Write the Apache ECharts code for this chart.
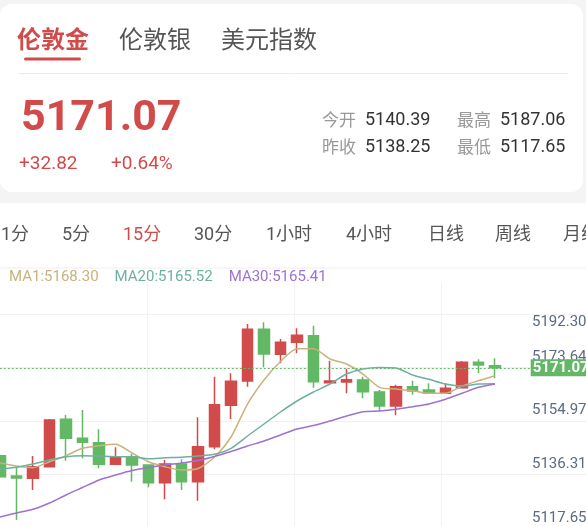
<!DOCTYPE html>
<html><head><meta charset="utf-8">
<script src="https://cdn.jsdelivr.net/npm/echarts@6/dist/echarts.min.js"></script>
<style>html,body{margin:0;padding:0;background:#fff}#c{width:586px;height:526px}</style>
</head><body><div id="c"></div>
<script>
// ---- data ----
const symbols = ['伦敦金', '伦敦银', '美元指数'];
const lastPrice = 5171.07;
const changeTexts = ['+32.82', '+0.64%'];
const statLabels = ['今开', '最高', '昨收', '最低'];
const statValues = ['5140.39', '5187.06', '5138.25', '5117.65'];
const periods = ['1分', '5分', '15分', '30分', '1小时', '4小时', '日线', '周线', '月线'];
const activePeriod = '15分';

const categories = ['1','2','3','4','5','6','7','8','9','10','11','12','13','14','15','16','17','18','19','20','21','22','23','24','25','26','27','28','29','30','31','32','33'];
const opens  = [5140.23,5133.10,5132.29,5136.36,5153.01,5146.34,5144.79,5137.21,5139.88,5136.96,5130.75,5137.31,5131.10,5143.39,5157.92,5166.46,5184.61,5175.83,5180.04,5182.36,5165.86,5166.10,5166.81,5162.59,5157.68,5164.45,5163.30,5162.14,5164.10,5173.02,5171.83];
const closes = [5132.85,5132.40,5136.36,5152.76,5146.34,5144.93,5137.21,5139.52,5136.96,5130.75,5137.31,5131.10,5143.39,5158.13,5166.35,5184.61,5175.94,5180.04,5182.50,5166.21,5166.46,5166.91,5162.70,5157.68,5164.45,5162.94,5162.14,5163.89,5173.02,5172.07,5171.07];
const lows   = [5132.40,5117.65,5128.18,5136.10,5138.47,5139.31,5135.80,5137.00,5131.10,5129.13,5124.92,5128.18,5124.43,5142.47,5153.11,5164.45,5171.27,5172.67,5176.18,5164.10,5165.60,5162.14,5160.38,5155.92,5154.41,5161.65,5161.89,5161.90,5163.90,5169.16,5167.40];
const highs  = [5140.60,5136.36,5140.12,5153.11,5154.52,5156.27,5149.50,5143.18,5140.82,5137.10,5138.70,5138.96,5153.71,5167.97,5169.16,5186.47,5187.06,5181.20,5184.96,5185.87,5173.58,5170.77,5167.97,5163.30,5165.16,5166.56,5165.65,5165.65,5173.48,5174.07,5174.43];

const ma1  = [5137.77,5136.61,5136.01,5138.12,5140.23,5142.83,5143.74,5144.23,5141.18,5138.12,5136.36,5135.21,5135.73,5139.77,5146.79,5158.38,5166.81,5173.30,5177.80,5177.80,5174.18,5172.42,5168.91,5164.24,5163.65,5163.05,5162.14,5162.14,5164.70,5166.56,5168.30];
const ma20 = [5135.45,5136.15,5137.31,5138.72,5139.88,5140.23,5140.12,5139.88,5139.88,5139.17,5139.52,5139.67,5140.12,5140.72,5142.83,5147.14,5151.36,5155.57,5159.43,5162.59,5165.40,5168.91,5170.67,5171.20,5171.02,5168.56,5167.05,5165.40,5164.70,5165.40,5165.52];
const ma30 = [5118.70,5120.11,5121.41,5123.62,5126.43,5129.06,5131.69,5133.45,5135.03,5136.08,5136.96,5137.66,5138.54,5139.95,5141.70,5143.63,5145.39,5147.50,5149.60,5150.83,5152.41,5154.17,5155.68,5155.92,5156.52,5157.43,5158.38,5160.03,5162.14,5164.24,5165.41];
const maNames = ['MA1', 'MA20', 'MA30'];
const maLatest = ['5168.30', '5165.52', '5165.41'];
const priceTicks = [5117.65, 5136.31, 5154.97, 5173.64, 5192.30];

// ---- styles ----
const RED = '#d14b4b', GREEN = '#62b865';
const maColors = ['#c9b27c', '#6db0a2', '#9d72d0'];
const NUM = 'Roboto, "Noto Sans CJK SC", sans-serif';
const CJK = '"Noto Sans CJK SC", Roboto, sans-serif';
const yMin = priceTicks[0], yMax = priceTicks[priceTicks.length - 1];

const candleData = opens.map((o, i) => [o, closes[i], lows[i], highs[i]]);

const g = [];
g.push({type:'rect', shape:{x:0,y:0,width:586,height:203}, style:{fill:'#f4f4f4'}, silent:true});
g.push({type:'rect', shape:{x:0,y:4,width:583,height:188,r:12}, style:{fill:'#fff'}, silent:true});
const symX = [17, 119, 221];
symbols.forEach((s, i) => g.push({type:'text', x:symX[i], y:39, style:{text:s, fill: i===0?RED:'#555', fontSize:24, fontWeight: i===0?'bold':'normal', fontFamily:CJK, verticalAlign:'middle'}}));
g.push({type:'rect', shape:{x:24,y:57.5,width:57,height:3,r:1.5}, style:{fill:RED}});
g.push({type:'line', shape:{x1:19,y1:73.5,x2:568,y2:73.5}, style:{stroke:'#ececec', lineWidth:1}});
g.push({type:'text', x:21, y:119, style:{text:lastPrice.toFixed(2), fill:RED, fontSize:43, fontWeight:'bold', fontFamily:NUM, verticalAlign:'middle'}});
g.push({type:'text', x:19, y:164, style:{text:changeTexts[0], fill:RED, fontSize:19, fontFamily:NUM, verticalAlign:'middle'}});
g.push({type:'text', x:111, y:164, style:{text:changeTexts[1], fill:RED, fontSize:19, fontFamily:NUM, verticalAlign:'middle'}});
const statPos = [[322,120],[457,120],[322,147],[457,147]];
statLabels.forEach((l, i) => {
  g.push({type:'text', x:statPos[i][0], y:statPos[i][1], style:{text:l, fill:'#999', fontSize:17, fontFamily:CJK, verticalAlign:'middle'}});
  g.push({type:'text', x:statPos[i][0]+43, y:statPos[i][1], style:{text:statValues[i], fill:'#333', fontSize:18, fontFamily:NUM, verticalAlign:'middle'}});
});
const perX = [1, 62, 123, 194, 266, 346, 428, 495, 563];
periods.forEach((p, i) => g.push({type:'text', x:perX[i], y:235, style:{text:p, fill: p===activePeriod?RED:'#555', fontSize:18, fontFamily:NUM, verticalAlign:'middle'}}));
g.push({type:'line', shape:{x1:0,y1:268,x2:586,y2:268}, style:{stroke:'#eeeeee', lineWidth:1}});

const chart = echarts.init(document.getElementById('c'), null, {renderer:'canvas'});
chart.setOption({
  backgroundColor: '#fff',
  animation: false,
  graphic: {elements: g},
  legend: {
    left: 4, top: 270, padding: 0, itemWidth: 0, itemHeight: 14, itemGap: 11, icon: 'none',
    selectedMode: false,
    data: maNames.map((n, i) => ({name: n, icon: 'none', textStyle: {color: maColors[i]}})),
    formatter: n => n + ':' + maLatest[maNames.indexOf(n)],
    textStyle: {fontSize: 15, fontFamily: NUM}
  },
  grid: [
    {left: -8.25, width: 544.5, top: 307.4, height: 212.6, outerBoundsMode: 'none', containLabel: false},
    {left: 0, width: 586, top: 260.6, height: 267, outerBoundsMode: 'none', containLabel: false},
    {left: 0, width: 588, top: 283, bottom: 0, outerBoundsMode: 'none', containLabel: false}
  ],
  xAxis: [
    {type:'category', gridIndex:0, data:categories, boundaryGap:true, show:false},
    {type:'value', gridIndex:1, min:0, max:1, show:false},
    {type:'value', gridIndex:2, min:0, max:4, interval:1, axisLine:{show:false}, axisTick:{show:false}, axisLabel:{show:false},
     splitLine:{show:true, showMinLine:false, showMaxLine:false, lineStyle:{color:'#f2f2f2', width:1}}}
  ],
  yAxis: [
    {type:'value', gridIndex:0, min:yMin, max:yMax, position:'right', offset:-4.25, z:10,
     axisLine:{show:false}, axisTick:{show:false}, splitLine:{show:false},
     axisLabel:{customValues: priceTicks, margin:0, color:'#5c6a85', fontSize:15, fontFamily:NUM,
       formatter: v => {
         const s = v.toFixed(2);
         if (v === yMax) return '{t|' + s + '}';
         if (v === yMin) return '{b|' + s + '}';
         return '{m|' + s + '}';
       },
       rich: {
         t: {padding:[30,0,0,0], color:'#5c6a85', fontSize:15, fontFamily:NUM},
         b: {padding:[0,0,4,0], color:'#5c6a85', fontSize:15, fontFamily:NUM},
         m: {padding:[0,0,6,0], color:'#5c6a85', fontSize:15, fontFamily:NUM}
       }}},
    {type:'value', gridIndex:0, min:yMin, max:yMax, position:'right', offset:-5.55, z:11,
     axisLine:{show:false}, axisTick:{show:false}, splitLine:{show:false},
     axisLabel:{customValues:[lastPrice], margin:0, color:'#fff', fontSize:15, fontWeight:'bold', fontFamily:NUM,
       backgroundColor:GREEN, padding:[1,6,1,2], formatter: v => v.toFixed(2)}},
    {type:'value', gridIndex:1, min:0, max:5, interval:1, axisLine:{show:false}, axisTick:{show:false}, axisLabel:{show:false},
     splitLine:{show:true, showMinLine:true, showMaxLine:false, lineStyle:{color:'#f2f2f2', width:1}}},
    {type:'value', gridIndex:2, min:0, max:1, show:false}
  ],
  series: [
    {type:'candlestick', name:'K', xAxisIndex:0, yAxisIndex:0, data:candleData, barWidth:11,
     itemStyle:{color:RED, color0:GREEN, borderColor:RED, borderColor0:GREEN, borderWidth:1.5},
     markLine:{silent:true, symbol:'none', label:{show:false},
       lineStyle:{color:GREEN, type:[2,2], width:1}, data:[{yAxis:lastPrice}]}},
    ...maNames.map((n, i) => ({
      type:'line', name:n, xAxisIndex:0, yAxisIndex:0, data:[ma1, ma20, ma30][i],
      showSymbol:false, symbol:'none', smooth:0.25, color:maColors[i],
      lineStyle:{width:1.5, color:maColors[i]}, z:3
    }))
  ]
});
</script>
</body></html>
